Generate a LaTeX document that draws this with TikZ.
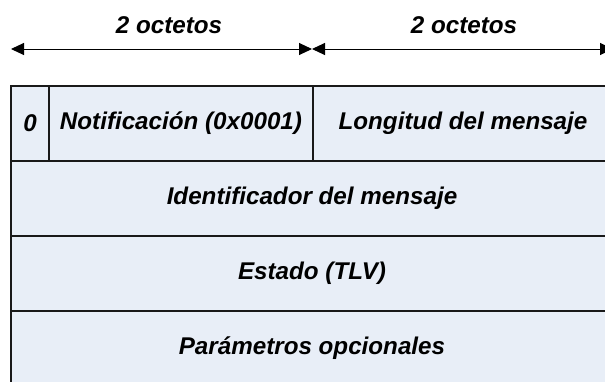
\documentclass[tikz,border=0pt]{standalone}
\usepackage{fontspec}
\setmainfont{Liberation Sans}
\usetikzlibrary{positioning,arrows.meta}
\definecolor{cellfill}{RGB}{232,238,247}
\definecolor{linedark}{RGB}{25,25,25}
\tikzset{
  cell/.style={draw=linedark, line width=1.4pt, fill=cellfill, minimum height=75pt,
    inner sep=0pt, outer sep=0pt, font=\fontsize{24.2}{28}\selectfont\bfseries\itshape},
  octlbl/.style={font=\fontsize{24.2}{28}\selectfont\bfseries\itshape},
  span/.style={{Triangle[length=13pt,width=12pt]}-{Triangle[length=13pt,width=12pt]}, line width=1pt}
}
\begin{document}
\begin{tikzpicture}[x=1pt,y=1pt]
  \useasboundingbox (0,0) rectangle (605,-381);
  \clip (0,0) rectangle (605,-381);

  % Width arrows
  \coordinate (s0) at (11,-49);
  \coordinate (s1) at (312,-49);
  \coordinate (s2) at (613,-49);
  \draw[span] (s0) -- (s1);
  \draw[span] (s1) -- (s2);
  \node[octlbl] (oct1) at (169,-25) {2 octetos};
  \node[octlbl] (oct2) at (464,-25) {2 octetos};

  % Header row
  \node[cell, minimum width=38pt, anchor=north west] (flag) at (11,-86) {0};
  \node[cell, minimum width=264pt, right=0pt of flag] (notif) {Notificación (0x0001)};
  \node[cell, minimum width=300pt, right=0pt of notif] (len) {Longitud del mensaje};

  % Full-width rows
  \node[cell, minimum width=602pt, anchor=north west] (ident) at (flag.south west) {Identificador del mensaje};
  \node[cell, minimum width=602pt, below=0pt of ident] (estado) {Estado (TLV)};
  \node[cell, minimum width=602pt, below=0pt of estado] (params) {Parámetros opcionales};
\end{tikzpicture}
\end{document}
